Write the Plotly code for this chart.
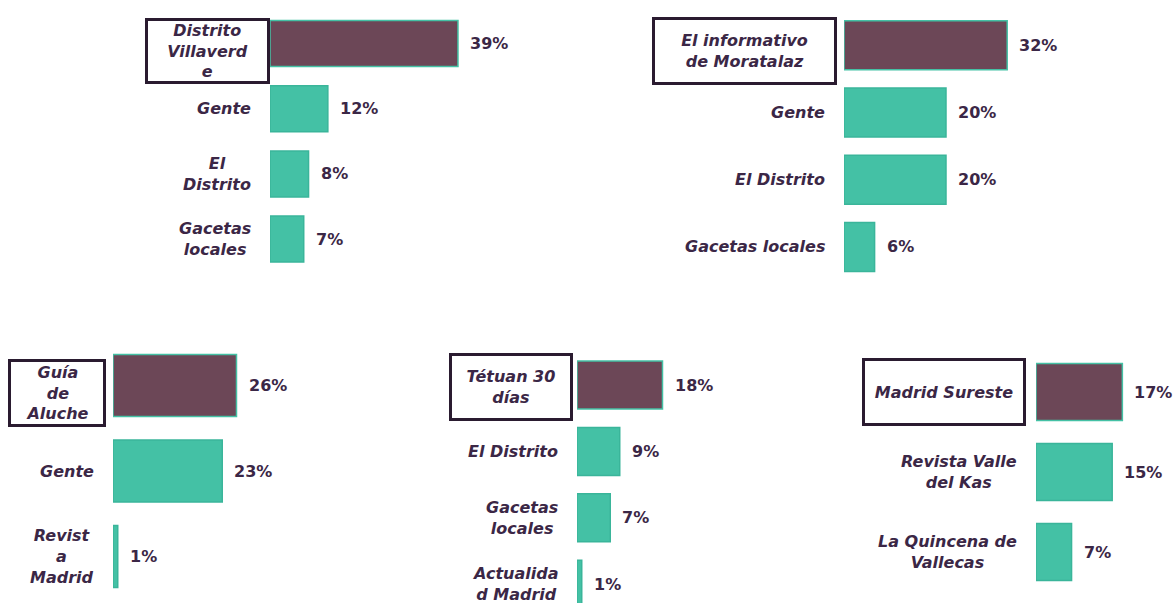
import plotly.graph_objects as go

# share of readers per local publication, one list per district panel
villaverde_labels = ["Distrito<br>Villaverd<br>e", "Gente", "El<br>Distrito", "Gacetas<br>locales"]
villaverde_values = [39, 12, 8, 7]

moratalaz_labels = ["El informativo<br>de Moratalaz", "Gente", "El Distrito", "Gacetas locales"]
moratalaz_values = [32, 20, 20, 6]

latina_labels = ["Guía<br>de<br>Aluche", "Gente", "Revist<br>a<br>Madrid"]
latina_values = [26, 23, 1]

tetuan_labels = ["Tétuan 30<br>días", "El Distrito", "Gacetas<br>locales", "Actualida<br>d Madrid"]
tetuan_values = [18, 9, 7, 1]

vallecas_labels = ["Madrid Sureste", "Revista Valle<br>del Kas", "La Quincena de<br>Vallecas"]
vallecas_values = [17, 15, 7]

W, H = 1174, 603
DARK = "#6c4757"
TEAL = "#44c1a5"
TEAL_EDGE = "#3ab59a"
TXT = "#3b2746"
BOX = "#2a1b30"
FONT = "DejaVu Sans"

# layout of each panel in pixels: bar start, px per %, first bar centre, row step,
# bar thickness, width of axis in %, label box (w, h, xshift, yshift)
panels = [
    (villaverde_labels, villaverde_values, dict(x0=270, k=4.82, c0=43.5, step=65.2, bh=46, xmax=50, box=(124, 65, 0, -7))),
    (moratalaz_labels, moratalaz_values, dict(x0=844, k=5.1, c0=45.3, step=67.2, bh=49, xmax=45, box=(184, 67, -7, -6))),
    (latina_labels, latina_values, dict(x0=113, k=4.75, c0=385.5, step=85.5, bh=62, xmax=45, box=(97, 67, -7, -7))),
    (tetuan_labels, tetuan_values, dict(x0=577, k=4.75, c0=385, step=66.4, bh=48, xmax=35, box=(123, 67, -4, -2))),
    (vallecas_labels, vallecas_values, dict(x0=1036, k=5.08, c0=392, step=80, bh=57, xmax=26, box=(163, 67, -10, 0))),
]

fig = go.Figure()
annotations = []
axes = {}

for i, (labels, values, p) in enumerate(panels, start=1):
    sfx = "" if i == 1 else str(i)
    n = len(values)
    ypos = list(range(n))
    fig.add_trace(go.Bar(
        x=values, y=ypos, orientation="h",
        width=p["bh"] / p["step"],
        marker=dict(color=[DARK] + [TEAL] * (n - 1),
                    line=dict(color=[TEAL] + [TEAL_EDGE] * (n - 1), width=1.5)),
        xaxis="x" + sfx, yaxis="y" + sfx,
        showlegend=False, hoverinfo="skip",
    ))

    top = p["c0"] - p["step"] / 2
    bottom = min(p["c0"] + p["step"] * (n - 0.5), H)
    x1 = min(p["x0"] + p["xmax"] * p["k"], W)
    axes["xaxis" + sfx] = dict(domain=[p["x0"] / W, x1 / W], range=[0, (x1 - p["x0"]) / p["k"]],
                               visible=False, anchor="y" + sfx, fixedrange=True)
    axes["yaxis" + sfx] = dict(domain=[1 - bottom / H, 1 - top / H],
                               range=[(bottom - p["c0"]) / p["step"], -0.5],
                               visible=False, anchor="x" + sfx, fixedrange=True)

    for j, (lab, v) in enumerate(zip(labels, values)):
        a = dict(xref="x" + sfx, yref="y" + sfx, x=0, y=j, showarrow=False,
                 text="<b><i>" + lab + "</i></b>", align="center",
                 font=dict(family=FONT, size=16, color=TXT),
                 xanchor="right", yanchor="middle")
        if j == 0:
            bw, bhh, xs, ys = p["box"]
            a.update(width=bw - 7, height=bhh - 7, borderpad=1, bordercolor=BOX,
                     borderwidth=3, xshift=xs, yshift=ys, valign="middle")
        else:
            a.update(xshift=-17)
        annotations.append(a)
        annotations.append(dict(xref="x" + sfx, yref="y" + sfx, x=v, y=j, showarrow=False,
                                text="<b>%d%%</b>" % v, xanchor="left", yanchor="middle",
                                xshift=10, font=dict(family=FONT, size=16, color=TXT)))

fig.update_layout(
    width=W, height=H,
    margin=dict(l=0, r=0, t=0, b=0),
    paper_bgcolor="white", plot_bgcolor="rgba(0,0,0,0)",
    annotations=annotations,
    **axes,
)

# page body has a default 8px margin, drop it so the chart sits at the window corner
fig.write_html("out.html", config={"displayModeBar": False},
               post_script="document.body.style.margin='0';document.body.style.overflow='hidden';")
